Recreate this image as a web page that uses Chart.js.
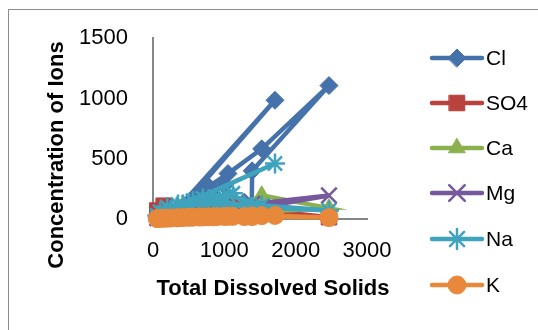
<!DOCTYPE html>
<html><head><meta charset="utf-8">
<script src="https://cdn.jsdelivr.net/npm/chart.js@4.4.0/dist/chart.umd.min.js"></script>
<style>
html,body{margin:0;padding:0;background:#fff;}
#wrap{position:relative;width:538px;height:330px;overflow:hidden;background:#fff;}
#frame{position:absolute;left:8px;top:9px;width:560px;height:360px;border:1px solid #8c8c8c;box-sizing:border-box;}
canvas{position:absolute;left:0;top:0;}
</style></head><body>
<div id="wrap"><div id="frame"></div><canvas id="c" width="538" height="330"></canvas></div>
<script>
// ---- data (samples in sheet order) ----
const seriesNames = ['Cl', 'SO4', 'Ca', 'Mg', 'Na', 'K'];
const tds = [60, 150, 330, 1710, 420, 250, 560, 780, 1051, 1524, 2467, 1390, 1384, 900, 200, 650, 1120, 350, 500, 1280, 850, 100, 700, 1000];
const cl  = [12, 30, 75, 985, 105, 50, 170, 270, 377, 582, 1107, 400, 110, 150, 40, 130, 160, 90, 110, 140, 200, 20, 220, 280];
const so4 = [70, 110, 45, 60, 40, 35, 55, 70, 120, 75, 15, 60, 90, 80, 60, 50, 100, 45, 50, 70, 75, 60, 60, 85];
const ca  = [20, 35, 30, 95, 40, 25, 45, 50, 60, 197, 90, 55, 45, 50, 30, 45, 55, 35, 40, 60, 50, 25, 48, 55];
const mg  = [8, 12, 18, 70, 20, 15, 25, 30, 40, 100, 195, 125, 60, 35, 14, 28, 45, 18, 22, 50, 33, 10, 30, 38];
const na  = [30, 50, 90, 460, 120, 75, 150, 165, 200, 115, 70, 100, 95, 130, 100, 140, 213, 120, 135, 110, 160, 60, 170, 180];
const k   = [3, 6, 10, 30, 12, 8, 15, 18, 22, 28, 12, 20, 25, 20, 7, 16, 22, 10, 14, 20, 18, 5, 17, 21];
const xTickMin = 0, xTickMax = 3000, xTickStep = 1000;
const yTickMin = 0, yTickMax = 1500, yTickStep = 500;
const xTitle = 'Total Dissolved Solids';
const yTitle = 'Concentration of Ions';

const seriesValues = [cl, so4, ca, mg, na, k];
const colors = ['#4672ab', '#b9413e', '#8db04f', '#76599c', '#3fa3bd', '#e8883a'];
const styles = ['rectRot', 'rect', 'triangle', 'crossRot', 'star', 'circle'];
const radii = [9, 11, 9.5, 11, 10, 9];
const pbw = [1, 1, 1, 2.5, 2.5, 1];

Chart.defaults.font.family = "'Liberation Sans', Arial, sans-serif";

const datasets = seriesNames.map((name, i) => ({
  label: name,
  data: tds.map((x, j) => ({x: x, y: seriesValues[i][j]})),
  showLine: true,
  borderColor: colors[i],
  backgroundColor: colors[i],
  pointBackgroundColor: colors[i],
  pointBorderColor: colors[i],
  borderWidth: 4.5,
  pointStyle: styles[i],
  pointRadius: radii[i],
  pointBorderWidth: pbw[i],
  clip: false,
  order: seriesNames.length - i
}));

const legendPlugin = {
  id: 'sideLegend',
  afterDraw(chart) {
    const ctx = chart.ctx;
    const ys = [58, 103, 148, 193, 239, 285];
    ctx.save();
    seriesNames.forEach((name, i) => {
      const y = ys[i];
      ctx.strokeStyle = colors[i];
      ctx.fillStyle = colors[i];
      ctx.lineWidth = 4.5;
      ctx.lineCap = 'round';
      ctx.beginPath();
      ctx.moveTo(432, y); ctx.lineTo(482, y); ctx.stroke();
      ctx.lineWidth = pbw[i];
      Chart.helpers.drawPoint(ctx, {pointStyle: styles[i], radius: radii[i], rotation: 0, borderWidth: pbw[i]}, 457, y);
      ctx.fillStyle = '#000';
      ctx.font = "21px 'Liberation Sans', Arial, sans-serif";
      ctx.textBaseline = 'middle';
      ctx.textAlign = 'left';
      ctx.fillText(name, 486, y + 1);
    });
    // axis titles
    ctx.fillStyle = '#000';
    ctx.font = "bold 22px 'Liberation Sans', Arial, sans-serif";
    ctx.textAlign = 'center';
    ctx.textBaseline = 'middle';
    ctx.fillText(xTitle, 273, 289);
    ctx.translate(57, 155);
    ctx.rotate(-Math.PI / 2);
    ctx.fillText(yTitle, 0, 0);
    ctx.restore();
  }
};

new Chart(document.getElementById('c'), {
  type: 'scatter',
  data: {datasets},
  plugins: [legendPlugin],
  options: {
    responsive: false,
    animation: false,
    layout: {padding: {left: 0, top: 36, right: 171, bottom: 0}},
    plugins: {legend: {display: false}, tooltip: {enabled: false}},
    scales: {
      x: {
        type: 'linear', min: xTickMin, max: xTickMax,
        ticks: {stepSize: xTickStep, color: '#000', font: {size: 22}, padding: 19, callback: v => String(v)},
        grid: {color: 'rgba(0,0,0,0)', drawTicks: false},
        border: {color: '#868686', width: 2},
        title: {display: false},
        afterFit: s => { s.height = 111; }
      },
      y: {
        type: 'linear', min: yTickMin, max: yTickMax,
        ticks: {stepSize: yTickStep, color: '#000', font: {size: 22}, padding: 25, callback: v => String(v)},
        grid: {color: 'rgba(0,0,0,0)', drawTicks: false},
        border: {color: '#868686', width: 2},
        title: {display: false},
        afterFit: s => { s.width = 153; }
      }
    }
  }
});
</script>
</body></html>
